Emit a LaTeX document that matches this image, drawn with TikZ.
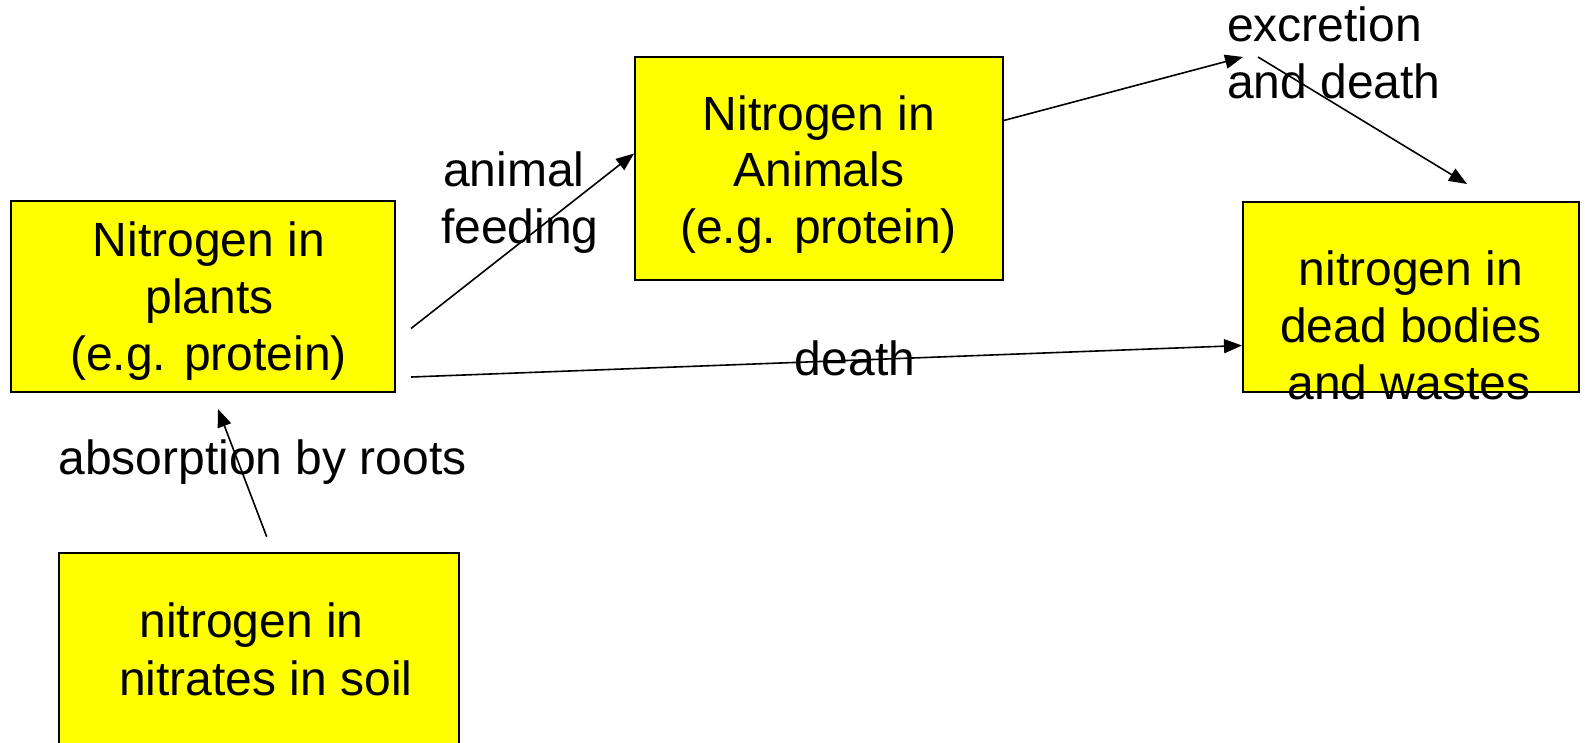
\documentclass[tikz,border=0pt]{standalone}
\usepackage{fontspec}
\setmainfont{Liberation Sans}
\usetikzlibrary{arrows.meta}
\definecolor{boxyellow}{HTML}{FFFF00}
\begin{document}
\begin{tikzpicture}[x=1pt,y=-1pt,
  box/.style={draw=black, line width=2pt, fill=boxyellow, inner sep=0pt, minimum width=#1},
  box/.default=384pt,
  lbl/.style={inner sep=0pt, font=\fontsize{48}{57}\selectfont},
  conn/.style={line width=1.6pt, -{Triangle[length=18pt,width=14pt]}}]
\useasboundingbox (0,0) rectangle (1585,742);
% boxes
\node[box=384pt, minimum height=191pt] (plants) at (203,296.5) {};
\node[box=368pt, minimum height=223.5pt] (animals) at (819,168.3) {};
\node[box=336pt, minimum height=190.5pt] (dead) at (1411,296.9) {};
\node[box=400pt, minimum height=207pt] (soil) at (259,656.5) {};
% free connector ends
\coordinate (pA) at (411,328.5);
\coordinate (pD) at (411,377);
\coordinate (aE) at (1003,120.7);
\coordinate (eTip) at (1243,57);
\coordinate (eStart) at (1258,57);
\coordinate (dTip) at (1467,184);
\coordinate (sA) at (266.7,536.7);
\coordinate (pTip) at (218,409);
% connectors
\draw[conn] (pA) -- (animals.west |- 0,153.5);
\draw[conn] (pD) -- (dead.west |- 0,345.5);
\draw[conn] (aE) -- (eTip);
\draw[conn] (eStart) -- (dTip);
\draw[conn] (sA) -- (pTip);
% box texts
\node[lbl, anchor=base] (p1) at (209,256.7) {Nitrogen in};
\node[lbl, anchor=base] (p2) at (209.5,313.5) {plants};
\node[lbl, anchor=base] (p3) at (208.5,370.3) {(e.g. protein)};
\node[lbl, anchor=base] (a1) at (819,130) {Nitrogen in};
\node[lbl, anchor=base] (a2) at (819,186.8) {Animals};
\node[lbl, anchor=base] (a3) at (818.5,243.8) {(e.g. protein)};
\node[lbl, anchor=base] (d1) at (1411,285) {nitrogen in};
\node[lbl, anchor=base] (d2) at (1411,342) {dead bodies};
\node[lbl, anchor=base] (d3) at (1409,399) {and wastes};
\node[lbl, anchor=base] (s1) at (251.7,637.3) {nitrogen in};
\node[lbl, anchor=base] (s2) at (265.8,695) {nitrates in soil};
% connector labels
\node[lbl, anchor=base west] (f1) at (443,186.7) {animal};
\node[lbl, anchor=base west] (f2) at (441,243.5) {feeding};
\node[lbl, anchor=base west] (e1) at (1227,41.7) {excretion};
\node[lbl, anchor=base west] (e2) at (1227,98.5) {and death};
\node[lbl, anchor=base] (dl) at (855,375) {death};
\node[lbl, anchor=base] (ab) at (262.5,474) {absorption by roots};
\end{tikzpicture}
\end{document}
